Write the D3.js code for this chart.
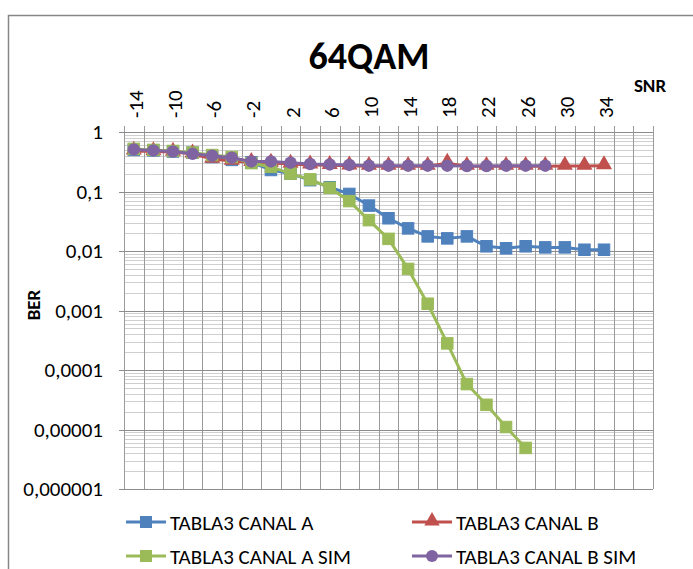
<!DOCTYPE html>
<html>
<head>
<meta charset="utf-8">
<script src="https://cdn.jsdelivr.net/npm/d3@7"></script>
<style>
  html, body { margin: 0; padding: 0; background: #fff; }
  svg { display: block; }
  text { font-family: Carlito, Calibri, Lato, sans-serif; fill: #000; }
</style>
</head>
<body>
<svg id="chart" width="693" height="569"></svg>
<script>
// SNR category slots on the top axis (the last two slots carry no data)
const snrSlots = [-14, -12, -10, -8, -6, -4, -2, 0, 2, 4, 6, 8, 10, 12, 14, 16, 18, 20, 22, 24, 26, 28, 30, 32, 34, 36, 38];
const xTickLabels = ["-14", "-10", "-6", "-2", "2", "6", "10", "14", "18", "22", "26", "30", "34"];

// Measured BER per SNR
const snr = [-14, -12, -10, -8, -6, -4, -2, 0, 2, 4, 6, 8, 10, 12, 14, 16, 18, 20, 22, 24, 26, 28, 30, 32, 34];
const canalA = [0.5, 0.49, 0.47, 0.45, 0.38, 0.34, 0.31, 0.23, 0.2, 0.155, 0.118, 0.091, 0.058, 0.0355, 0.024, 0.0176, 0.0163, 0.0176, 0.012, 0.0111, 0.012, 0.0115, 0.0115, 0.0105, 0.0105];
const canalB = [0.48, 0.47, 0.46, 0.43, 0.35, 0.325, 0.31, 0.3, 0.29, 0.28, 0.275, 0.27, 0.266, 0.266, 0.266, 0.266, 0.3, 0.266, 0.266, 0.266, 0.266, 0.266, 0.268, 0.268, 0.272];

// Simulated BER per SNR
const snrSimA = [-14, -12, -10, -8, -6, -4, -2, 0, 2, 4, 6, 8, 10, 12, 14, 16, 18, 20, 22, 24, 26];
const canalASim = [0.52, 0.5, 0.48, 0.45, 0.41, 0.38, 0.3, 0.26, 0.2, 0.16, 0.115, 0.069, 0.033, 0.016, 0.005, 0.0013, 0.00028, 0.000058, 0.000026, 0.000011, 0.0000049];
const snrSimB = [-14, -12, -10, -8, -6, -4, -2, 0, 2, 4, 6, 8, 10, 12, 14, 16, 18, 20, 22, 24, 26, 28];
const canalBSim = [0.51, 0.49, 0.47, 0.43, 0.4, 0.37, 0.32, 0.32, 0.305, 0.29, 0.285, 0.28, 0.272, 0.272, 0.272, 0.272, 0.272, 0.268, 0.268, 0.272, 0.272, 0.272];

const yTickValues = [1e-6, 1e-5, 1e-4, 1e-3, 1e-2, 1e-1, 1];
const yTickLabels = ["0,000001", "0,00001", "0,0001", "0,001", "0,01", "0,1", "1"];

const series = [
  { name: "TABLA3 CANAL A",     x: snr,     y: canalA,    color: "#4F81BD", marker: "square" },
  { name: "TABLA3 CANAL B",     x: snr,     y: canalB,    color: "#C0504D", marker: "triangle" },
  { name: "TABLA3 CANAL A SIM", x: snrSimA, y: canalASim, color: "#9BBB59", marker: "square" },
  { name: "TABLA3 CANAL B SIM", x: snrSimB, y: canalBSim, color: "#8064A2", marker: "circle" }
];

const svg = d3.select("#chart");
const plot = { left: 124, right: 653, top: 132, bottom: 489 };

// Outer chart frame
svg.append("rect")
  .attr("x", 8.5).attr("y", 15.5).attr("width", 720).attr("height", 620)
  .attr("fill", "#fff").attr("stroke", "#878787").attr("stroke-width", 1.5);

const x = d3.scaleBand().domain(snrSlots).range([plot.left, plot.right]).paddingInner(0).paddingOuter(0);
const cx = v => x(v) + x.bandwidth() / 2;
const y = d3.scaleLog().domain([1e-6, 1]).range([plot.bottom, plot.top]);

const grid = svg.append("g");

// Minor horizontal gridlines (2..9 in each decade)
const minor = [];
for (let e = -6; e < 0; e++) for (let m = 2; m <= 9; m++) minor.push(m * Math.pow(10, e));
grid.selectAll("line.minor").data(minor).join("line")
  .attr("x1", plot.left).attr("x2", plot.right)
  .attr("y1", d => Math.round(y(d)) + 0.5).attr("y2", d => Math.round(y(d)) + 0.5)
  .attr("stroke", "#cfcfcf").attr("stroke-width", 1);

// Vertical gridlines at category boundaries
const bounds = snrSlots.map(s => x(s)).concat([plot.right]);
grid.selectAll("line.v").data(bounds).join("line")
  .attr("x1", d => Math.round(d) + 0.5).attr("x2", d => Math.round(d) + 0.5)
  .attr("y1", plot.top - 6).attr("y2", plot.bottom)
  .attr("stroke", "#9a9a9a").attr("stroke-width", 1);

// Major horizontal gridlines
grid.selectAll("line.major").data(yTickValues).join("line")
  .attr("x1", plot.left - 5).attr("x2", plot.right)
  .attr("y1", d => Math.round(y(d)) + 0.5).attr("y2", d => Math.round(y(d)) + 0.5)
  .attr("stroke", "#8c8c8c").attr("stroke-width", 1);

// Y axis labels
const yAxis = d3.axisLeft(y).tickValues(yTickValues)
  .tickFormat((d, i) => yTickLabels[i]).tickSize(0).tickPadding(21);
const gy = svg.append("g").attr("transform", `translate(${plot.left},0)`).call(yAxis);
gy.select(".domain").remove();
gy.selectAll("text").attr("font-size", 21).attr("font-family", "Carlito, Calibri, Lato, sans-serif").attr("fill", "#000");

// Top category labels, rotated
const labelSlots = xTickLabels.map(Number);
const gx = svg.append("g");
gx.selectAll("text").data(labelSlots).join("text")
  .attr("transform", d => `translate(${cx(d) + 9},118) rotate(-90)`)
  .attr("text-anchor", "start")
  .attr("font-size", 21)
  .text((d, i) => xTickLabels[i]);

// Axis titles and chart title
svg.append("text").attr("x", 369).attr("y", 69).attr("text-anchor", "middle")
  .attr("font-size", 38).attr("font-weight", "bold").text("64QAM");
svg.append("text").attr("x", 650).attr("y", 92).attr("text-anchor", "middle")
  .attr("font-size", 19).attr("font-weight", "bold").text("SNR");
svg.append("text").attr("transform", "translate(40,305) rotate(-90)").attr("text-anchor", "middle")
  .attr("font-size", 19).attr("font-weight", "bold").text("BER");

// Marker drawing
function drawMarker(sel, type, color, size) {
  if (type === "square") {
    sel.append("rect").attr("x", -size / 2).attr("y", -size / 2).attr("width", size).attr("height", size)
      .attr("fill", color).attr("stroke", color).attr("stroke-width", 1);
  } else if (type === "circle") {
    sel.append("circle").attr("r", size / 2 + 0.5).attr("fill", color);
  } else {
    sel.append("path").attr("d", d3.symbol(d3.symbolTriangle, size * size * 0.85)()).attr("fill", color)
      .attr("transform", "translate(0,-1)");
  }
}

const line = d3.line().x(d => cx(d[0])).y(d => y(d[1]));

series.forEach(s => {
  const pts = s.x.map((v, i) => [v, s.y[i]]);
  const g = svg.append("g");
  g.append("path").attr("d", line(pts)).attr("fill", "none")
    .attr("stroke", s.color).attr("stroke-width", 3).attr("stroke-linejoin", "round");
  pts.forEach(p => {
    const m = g.append("g").attr("transform", `translate(${cx(p[0])},${y(p[1])})`);
    drawMarker(m, s.marker, s.color, 11.5);
  });
});

// Legend
const legendPos = [[126, 522], [412, 522], [126, 556], [412, 556]];
series.forEach((s, i) => {
  const [lx, ly] = legendPos[i];
  const g = svg.append("g").attr("transform", `translate(${lx},${ly})`);
  g.append("line").attr("x1", 0).attr("x2", 40).attr("y1", 0).attr("y2", 0)
    .attr("stroke", s.color).attr("stroke-width", 3);
  const m = g.append("g").attr("transform", "translate(20,0)");
  drawMarker(m, s.marker, s.color, 11);
  g.append("text").attr("x", 44).attr("y", 7.5)
    .attr("font-size", 21).text(s.name);
});
</script>
</body>
</html>
